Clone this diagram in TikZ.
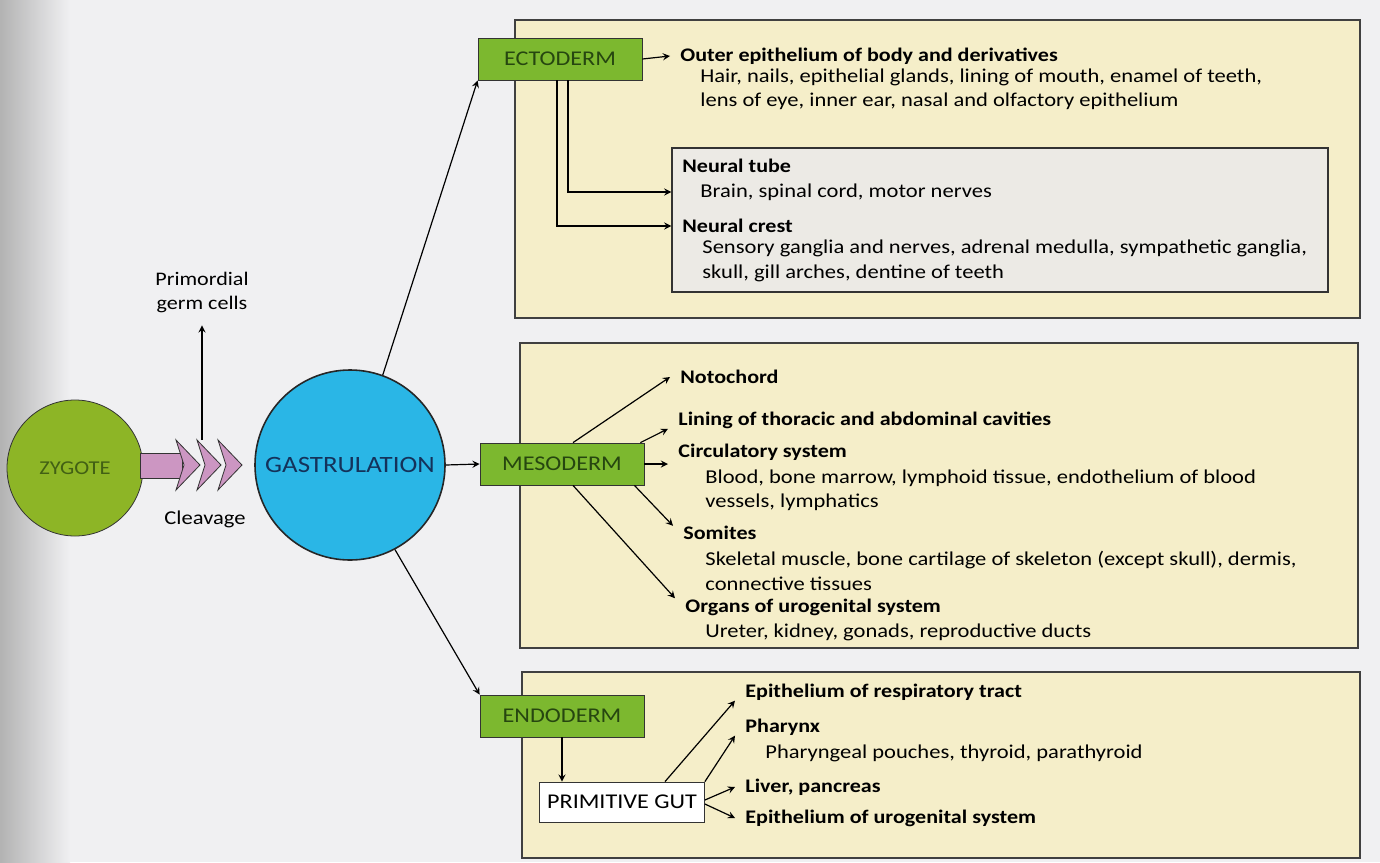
\documentclass[tikz,border=0pt]{standalone}
\usepackage{fontspec}
\setmainfont{Carlito}[FakeStretch=1.15]
\usetikzlibrary{positioning}
\definecolor{pagegray}{RGB}{240,240,242}
\definecolor{panelyellow}{RGB}{245,238,201}
\definecolor{neuralgray}{RGB}{236,234,229}
\definecolor{layergreen}{RGB}{124,184,47}
\definecolor{layertext}{RGB}{38,70,16}
\definecolor{zygcol}{RGB}{141,181,38}
\definecolor{zygtext}{RGB}{66,96,20}
\definecolor{gastblue}{RGB}{42,182,230}
\definecolor{gasttext}{RGB}{20,50,90}
\definecolor{cleavpink}{RGB}{204,150,194}
\begin{document}
\begin{tikzpicture}[x=0.5pt,y=-0.5pt,
  layer/.style={draw=black!80, fill=layergreen, minimum width=82pt, minimum height=21pt,
    inner sep=0pt, text=layertext, font=\fontsize{10.5}{12}\selectfont},
  panel/.style={draw=black!75, line width=1pt, fill=panelyellow},
  head/.style={anchor=west, inner xsep=5pt, inner ysep=0pt, font=\bfseries\fontsize{9.6}{12}\selectfont},
  body/.style={anchor=west, inner xsep=5pt, inner ysep=0pt, align=left, font=\fontsize{9.8}{12.2}\selectfont},
  arr/.style={-stealth, semithick}]

  % page
  \fill[pagegray] (0,0) rectangle (1380,862);
  \shade[left color=black!30, right color=pagegray] (0,0) rectangle (70,862);
  \useasboundingbox (0,0) rectangle (1380,862);

  % panels
  \draw[panel] (515,20) rectangle (1360,318);
  \draw[panel] (520,343) rectangle (1358,648);
  \draw[panel] (522,672) rectangle (1360,858);
  \node[draw=black!80, line width=0.7pt, fill=neuralgray, minimum width=328pt, minimum height=72pt,
    inner sep=0pt] (nbox) at (1000,220) {};

  % zygote and cleavage
  \node[circle, draw=black!80, fill=zygcol, minimum size=68pt, inner sep=0pt, text=zygtext,
    font=\fontsize{9.8}{12}\selectfont] (zyg) at (75,468) {ZYGOTE};
  \filldraw[fill=cleavpink, draw=black!80] (140,453) rectangle (182,478);
  \foreach \t in {200,221,242}
    \filldraw[fill=cleavpink, draw=black!80] (\t-24,440) -- (\t,465) -- (\t-24,490) -- (\t-16,465) -- cycle;
  \node[font=\fontsize{9.8}{12}\selectfont] (cleav) at (205,519) {Cleavage};
  \node[align=center, font=\fontsize{9.6}{12}\selectfont] (pgc) at (202,292) {Primordial\\germ cells};
  \coordinate (pgcfoot) at (202,440);
  \draw[arr, shorten >=3pt] (pgcfoot) -- (pgcfoot |- pgc.south);

  % gastrulation
  \node[circle, draw=black!85, line width=0.8pt, fill=gastblue, minimum size=95pt, inner sep=0pt,
    text=gasttext, font=\fontsize{11.7}{14}\selectfont] (gast) at (350,465) {GASTRULATION};

  % germ layers
  \node[layer] (ecto) at (560,59) {ECTODERM};
  \node[layer] (meso) at (562,464) {MESODERM};
  \node[layer] (endo) at (562,716) {ENDODERM};
  \node[draw=black!80, fill=white, minimum width=82.5pt, minimum height=20pt, inner sep=0pt,
    font=\fontsize{10.5}{12}\selectfont] (gut) at (622,802) {PRIMITIVE GUT};

  \draw[arr] (gast.east) -- (meso.west);
  \draw[arr] (gast.70) -- (ecto.south west);
  \draw[arr] (gast.-62) -- (endo.north west);

  % ectoderm derivatives
  \node[head] (tOuter) at (670,56) {Outer epithelium of body and derivatives};
  \node[body] (tHair) at (690,89) {Hair, nails, epithelial glands, lining of mouth, enamel of teeth,\\lens of eye, inner ear, nasal and olfactory epithelium};
  \node[head] (tTube) at (672,166) {Neural tube};
  \node[body] (tBrain) at (690,192) {Brain, spinal cord, motor nerves};
  \node[head] (tCrest) at (672,226) {Neural crest};
  \node[body] (tSens) at (692,261) {Sensory ganglia and nerves, adrenal medulla, sympathetic ganglia,\\skull, gill arches, dentine of teeth};

  \draw[arr] (ecto.east) -- (tOuter.west);
  \draw[arr] ([xshift=4pt]ecto.south) |- (nbox.west |- tBrain);
  \draw[arr] ([xshift=-1.5pt]ecto.south) |- (nbox.west |- tCrest);

  % mesoderm derivatives
  \node[head] (tNoto) at (670,377) {Notochord};
  \node[head] (tLin) at (668,420) {Lining of thoracic and abdominal cavities};
  \node[head] (tCirc) at (668,452) {Circulatory system};
  \node[body] (tBlood) at (695,490) {Blood, bone marrow, lymphoid tissue, endothelium of blood\\vessels, lymphatics};
  \node[head] (tSom) at (673,533) {Somites};
  \node[body] (tSkel) at (695,571) {Skeletal muscle, bone cartilage of skeleton (except skull), dermis,\\connective tissues};
  \node[head] (tOrg) at (675,607) {Organs of urogenital system};
  \node[body] (tUre) at (695,632) {Ureter, kidney, gonads, reproductive ducts};

  \draw[arr] ([xshift=5.5pt]meso.north) -- (tNoto.west);
  \draw[arr] ([xshift=-2pt]meso.north east) -- (tLin.south west);
  \draw[arr] (meso.east) -- (tCirc.west |- meso.east);
  \draw[arr] ([xshift=-5pt]meso.south east) -- (tSom.north west);
  \draw[arr] ([xshift=5.5pt]meso.south) -- (tOrg.north west);

  % endoderm derivatives
  \node[head] (tResp) at (735,692) {Epithelium of respiratory tract};
  \node[head] (tPhar) at (735,727) {Pharynx};
  \node[body] (tPouch) at (755,753) {Pharyngeal pouches, thyroid, parathyroid};
  \node[head] (tLiv) at (735,787) {Liver, pancreas};
  \node[head] (tUro) at (735,818) {Epithelium of urogenital system};

  \draw[arr] (endo.south) -- (gut.north -| endo.south);
  \draw[arr] ([xshift=21.5pt]gut.north) -- (tResp.south west);
  \draw[arr] (gut.north east) -- (tPhar.south west);
  \draw[arr] ([yshift=1pt]gut.east) -- (tLiv.west);
  \draw[arr] ([yshift=-1pt]gut.east) -- (tUro.west);
\end{tikzpicture}
\end{document}
